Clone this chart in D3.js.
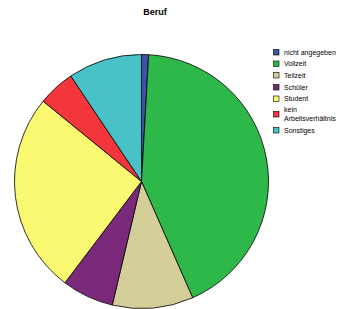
<!DOCTYPE html>
<html><head><meta charset="utf-8">
<script src="https://cdn.jsdelivr.net/npm/d3@7"></script>
<style>body{margin:0;background:#fff}svg{display:block}</style>
</head><body>
<script>
const categories = ["nicht angegeben","Vollzeit","Teilzeit","Schüler","Student","kein Arbeitsverhältnis","Sonstiges"];
const values = [0.9, 42.5, 10.3, 6.6, 25.6, 4.7, 9.4];
const colors = ["#3a52a8","#2fb84a","#d4cf99","#7b2a7b","#fbf871","#f2363c","#48c2c7"];
const legendLines = [["nicht angegeben"],["Vollzeit"],["Teilzeit"],["Schüler"],["Student"],["kein","Arbeitsverhältnis"],["Sonstiges"]];

const W=341,H=309;
const svg=d3.select("body").append("svg").attr("width",W).attr("height",H);
svg.append("text").attr("x",155).attr("y",15).attr("text-anchor","middle")
  .attr("font-family","Liberation Sans, Arial, sans-serif").attr("font-weight","bold").attr("font-size",9).text("Beruf");

const cx=141.5, cy=181.5, r=127;
const pie=d3.pie().sort(null).value(d=>d)(values);
const arc=d3.arc().innerRadius(0).outerRadius(r);
const g=svg.append("g").attr("transform",`translate(${cx},${cy})`);
g.selectAll("path").data(pie).join("path").attr("d",arc)
  .attr("fill",(d,i)=>colors[i]).attr("stroke","#000").attr("stroke-width",0.8).attr("stroke-linejoin","round");

const lg=svg.append("g").attr("font-family","Liberation Sans, Arial, sans-serif").attr("font-size",7).attr("fill","#000");
const rowY=[52,63.5,75,87,98.5,114,130];
legendLines.forEach((lines,i)=>{
  const y=rowY[i];
  lg.append("rect").attr("x",273.5).attr("y",y-2.5).attr("width",5.5).attr("height",5.5)
    .attr("fill",colors[i]).attr("stroke","#000").attr("stroke-width",0.6);
  const n=lines.length;
  lines.forEach((t,j)=>{
    lg.append("text").attr("x",284).attr("y",y+2.5+(j-(n-1)/2)*9.5).text(t);
  });
});
</script>
</body></html>
